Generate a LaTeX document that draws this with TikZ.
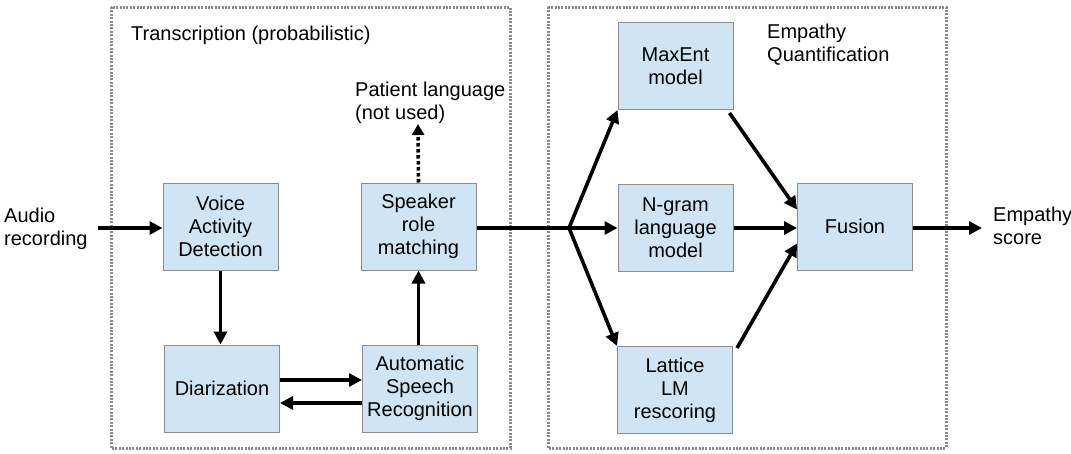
\documentclass[tikz,border=0pt]{standalone}
\usepackage{fontspec}
\setmainfont{Liberation Sans}
\usetikzlibrary{arrows.meta}
\definecolor{boxfill}{HTML}{CFE5F3}
\definecolor{boxline}{HTML}{8C8C8C}
\definecolor{regionline}{HTML}{8A8A8A}
\tikzset{
  blk/.style={draw=boxline, line width=1pt, fill=boxfill, minimum width=115pt, minimum height=87pt,
    align=center, inner sep=2pt, font=\fontsize{20}{23}\selectfont},
  region/.style={draw=regionline, line width=3pt, dash pattern=on 2pt off 1.4pt},
  lbl/.style={align=left, inner sep=0pt, font=\fontsize{20}{23}\selectfont},
  flow/.style={line width=3.6pt, -{Triangle[length=13pt,width=13pt]}},
  plain/.style={line width=3.6pt},
  hint/.style={line width=3.6pt, dash pattern=on 3.5pt off 2.5pt, -{Triangle[length=11pt,width=12pt]}}
}
\begin{document}
\begin{tikzpicture}[x=1pt, y=-1pt]
\useasboundingbox (0,0) rectangle (1071,453);
% the two processing stages
\draw[region] (111,7) rectangle (510,448);
\draw[region] (548,7) rectangle (946,448);
\node[lbl, anchor=base west] (ttitle) at (131,40) {Transcription (probabilistic)};
\node[lbl, anchor=base west] (etitle) at (767,61) {Empathy\\Quantification};

% transcription blocks
\node[blk] (vad) at (220.5,226.5) {Voice\\Activity\\Detection};
\node[blk] (diar) at (222,388.5) {Diarization};
\node[blk] (asr) at (420,388.5) {Automatic\\Speech\\Recognition};
\node[blk] (spk) at (418.5,226.5) {Speaker\\role\\matching};

% empathy quantification blocks
\node[blk] (maxent) at (675.5,66) {MaxEnt\\model};
\node[blk] (ngram) at (675.5,227.5) {N-gram\\language\\model};
\node[blk] (lattice) at (675,390) {Lattice\\LM\\rescoring};
\node[blk] (fusion) at (855,226.5) {Fusion};

% inputs, outputs
\node[lbl, anchor=base west] (audio) at (4,245) {Audio\\recording};
\node[lbl, anchor=base west] (patient) at (355,119) {Patient language\\(not used)};
\node[lbl, anchor=base west] (score) at (993,244) {Empathy\\score};

\coordinate (ain) at (98,228);
\coordinate (pout) at (418,124);
\coordinate (split) at (569,228);
\coordinate (sout) at (982,228);

\draw[flow] (ain) -- (vad.west |- ain);
\draw[flow] (vad) -- (vad |- diar.north);
\draw[flow] ([yshift=8.5pt]diar.east) -- ([yshift=8.5pt]asr.west);
\draw[flow] ([yshift=-14.5pt]asr.west) -- ([yshift=-14.5pt]diar.east);
\draw[flow] (spk |- asr.north) -- (spk.south);
\draw[hint] (spk.north) -- (pout);

\draw[plain] (spk.east |- split) -- (split);
\draw[flow] (split) -- (maxent.south west);
\draw[flow] (split) -- (ngram.west |- split);
\draw[flow] (split) -- (lattice.north west);

\draw[flow] ([shift={(-4pt,-3pt)}]maxent.south east) -- ([yshift=17pt]fusion.west);
\draw[flow] (ngram.east |- split) -- (fusion.west |- split);
\draw[flow] ([shift={(4pt,-2pt)}]lattice.north east) -- ([yshift=-17pt]fusion.west);
\draw[flow] (fusion.east |- split) -- (sout);
\end{tikzpicture}
\end{document}
